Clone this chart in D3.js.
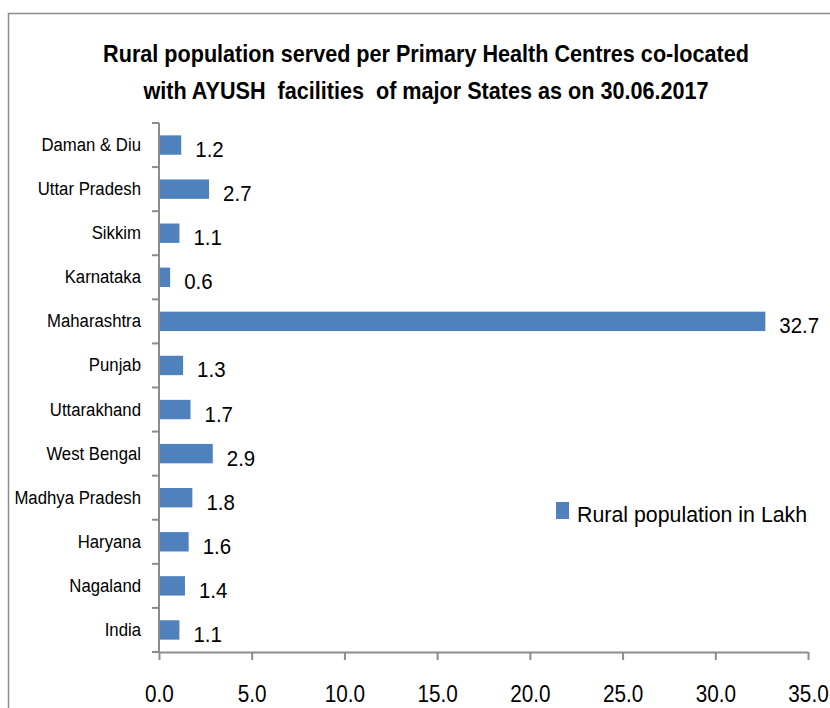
<!DOCTYPE html>
<html>
<head>
<meta charset="utf-8">
<script src="https://cdn.jsdelivr.net/npm/d3@7"></script>
<style>
body { margin:0; background:#fff; }
svg text { font-family: "Liberation Sans Narrow", "Arial Narrow", "Liberation Sans", sans-serif; fill:#000; white-space: pre; }
</style>
</head>
<body>
<svg id="chart" width="830" height="708"></svg>
<script>
var states = ["Daman & Diu","Uttar Pradesh","Sikkim","Karnataka","Maharashtra","Punjab",
              "Uttarakhand","West Bengal","Madhya Pradesh","Haryana","Nagaland","India"];
var ruralPop = [1.2, 2.7, 1.1, 0.6, 32.7, 1.3, 1.7, 2.9, 1.8, 1.6, 1.4, 1.1];
var xTicks = [0, 5, 10, 15, 20, 25, 30, 35];
var titleLines = ["Rural population served per Primary Health Centres co-located",
                  "with AYUSH  facilities  of major States as on 30.06.2017"];
var legendLabel = "Rural population in Lakh";

// the original uses a narrow font, so squeeze the glyphs a bit
var condense = function(sel, factor){
    sel.each(function(){
        var w = this.getComputedTextLength();
        d3.select(this).attr("textLength", w * factor).attr("lengthAdjust", "spacingAndGlyphs");
    });
}

var drawChart = function(){
    var svg = d3.select("svg#chart");
    var barColor = "#4F81BD", axisColor = "#8c8c8c";

    // outer border of the chart area
    svg.append("rect")
        .attr("x", 8.5).attr("y", 13.5)
        .attr("width", 900).attr("height", 800)
        .attr("fill", "none").attr("stroke", axisColor).attr("stroke-width", 1.5);

    var title = svg.selectAll("text.title")
        .data(titleLines)
        .enter()
        .append("text")
        .attr("class", "title")
        .attr("x", 426)
        .attr("y", function(d, i){return 62 + i * 37})
        .attr("text-anchor", "middle")
        .style("font-size", "24px")
        .style("font-weight", "bold")
        .text(function(d){return d});
    condense(title, 0.9);

    var x = d3.scaleLinear().domain([0, 35]).range([159, 808]);
    var y = d3.scaleBand().domain(states).range([123, 652]).paddingInner(0.56).paddingOuter(0.28);

    // x axis
    var xAxis = svg.append("g")
        .attr("transform", "translate(0,652)")
        .call(d3.axisBottom(x).tickValues(xTicks).tickFormat(d3.format(".1f")).tickSize(8).tickSizeOuter(0).tickPadding(42));
    xAxis.select(".domain").attr("stroke", axisColor).attr("stroke-width", 2);
    xAxis.selectAll(".tick line").attr("stroke", axisColor).attr("stroke-width", 2);
    xAxis.selectAll(".tick text").attr("dy", null).style("font-size", "23px").attr("fill", "#000");
    condense(xAxis.selectAll(".tick text"), 0.9);

    // y axis: ticks sit on category boundaries
    var yAxis = svg.append("g");
    yAxis.append("line")
        .attr("x1", 159).attr("x2", 159)
        .attr("y1", 123).attr("y2", 652)
        .attr("stroke", axisColor).attr("stroke-width", 2);
    var bounds = d3.range(states.length + 1).map(function(i){return 123 + i * (529 / states.length)});
    yAxis.selectAll("line.ytick")
        .data(bounds)
        .enter()
        .append("line")
        .attr("class", "ytick")
        .attr("x1", 152).attr("x2", 159)
        .attr("y1", function(d){return d}).attr("y2", function(d){return d})
        .attr("stroke", axisColor).attr("stroke-width", 2);
    var yLabels = yAxis.selectAll("text")
        .data(states)
        .enter()
        .append("text")
        .attr("x", 141)
        .attr("y", function(d){return y(d) + y.bandwidth() / 2 + 6})
        .attr("text-anchor", "end")
        .style("font-size", "18px")
        .text(function(d){return d});
    condense(yLabels, 0.93);

    // bars
    svg.selectAll("rect.bar")
        .data(ruralPop)
        .enter()
        .append("rect")
        .attr("class", "bar")
        .attr("x", x(0) + 1)
        .attr("y", function(d, i){return y(states[i])})
        .attr("width", function(d){return x(d) - x(0) - 1})
        .attr("height", y.bandwidth())
        .attr("fill", barColor);

    // value labels
    var vals = svg.selectAll("text.val")
        .data(ruralPop)
        .enter()
        .append("text")
        .attr("class", "val")
        .attr("x", function(d){return x(d) + 14})
        .attr("y", function(d, i){return y(states[i]) + y.bandwidth() / 2 + 12})
        .style("font-size", "22px")
        .text(function(d){return d3.format(".1f")(d)});
    condense(vals, 0.93);

    // legend
    var legend = svg.append("g");
    legend.append("rect")
        .attr("x", 556).attr("y", 502)
        .attr("width", 13).attr("height", 17)
        .attr("fill", barColor);
    var legText = legend.append("text")
        .attr("x", 577).attr("y", 522)
        .style("font-size", "22px")
        .text(legendLabel);
    condense(legText, 0.97);
};

drawChart();
</script>
</body>
</html>
